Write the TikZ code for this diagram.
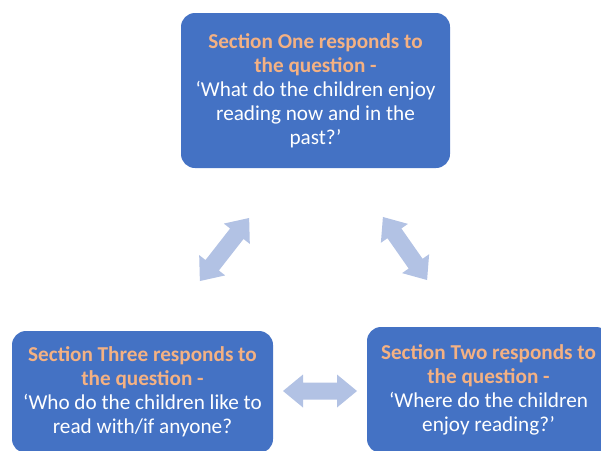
\documentclass[tikz,border=0pt]{standalone}
\usepackage{fontspec}
\setmainfont{Carlito}
\definecolor{boxblue}{HTML}{4472C4}
\definecolor{headorange}{HTML}{F4B183}
\definecolor{arrowblue}{HTML}{B2C2E4}
\tikzset{
  section/.style={fill=boxblue, draw=none, rounded corners=14pt, text=white,
    align=center, inner sep=0pt, font=\fontsize{21.2}{24}\selectfont},
}
% block double arrow: centre, angle, length
\newcommand{\blockarrow}[4]{%
  \begin{scope}[shift={(#1,#2)}, rotate=#3]
    \pgfmathsetmacro{\ha}{#4/2}
    \pgfmathsetmacro{\hb}{#4/2-20}
    \fill[arrowblue] (-\ha,0) -- (-\hb,16.5) -- (-\hb,8.5) -- (\hb,8.5) -- (\hb,16.5)
      -- (\ha,0) -- (\hb,-16.5) -- (\hb,-8.5) -- (-\hb,-8.5) -- (-\hb,-16.5) -- cycle;
  \end{scope}}
\newcommand{\headline}[1]{\textcolor{headorange}{\bfseries #1}}
\begin{document}
\begin{tikzpicture}[x=1pt,y=1pt]
  \useasboundingbox (0,0) rectangle (601,-450);
  \clip (0,0) rectangle (601,-450);

  \node[section, minimum width=269pt, minimum height=155pt] (one) at (315.5,-90.5)
    {\headline{Section One responds to}\\\headline{the question -}\\
     ‘What do the children enjoy\\reading now and in the\\past?’};

  \node[section, minimum width=261pt, minimum height=122pt] (three) at (142.5,-392)
    {\headline{Section Three responds to}\\\headline{the question -}\\
     ‘Who do the children like to\\read with/if anyone?};

  \node[section, minimum width=243pt, minimum height=126pt] (two) at (488.5,-390)
    {\headline{Section Two responds to}\\\headline{the question -}\\
     ‘Where do the children\\enjoy reading?’};

  \blockarrow{224.5}{-249.5}{52}{80}
  \blockarrow{405}{-248.5}{125}{77}
  \blockarrow{320}{-391}{0}{74}
\end{tikzpicture}
\end{document}
